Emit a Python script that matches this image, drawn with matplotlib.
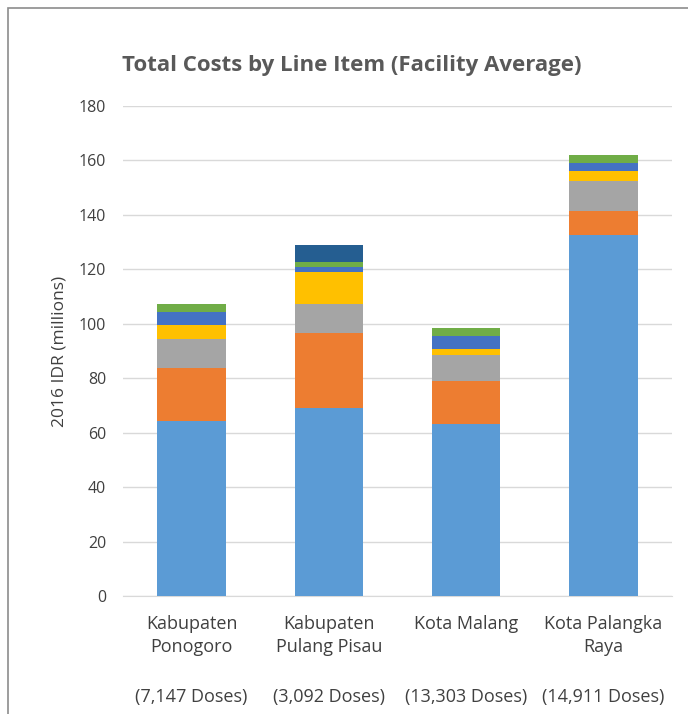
import numpy as np
import matplotlib.pyplot as plt
from matplotlib.patches import Rectangle

plt.rcParams['font.family'] = ['Open Sans', 'DejaVu Sans']

categories = ["Kabupaten\nPonogoro", "Kabupaten\nPulang Pisau", "Kota Malang\n", "Kota Palangka\nRaya"]
doses = ["(7,147 Doses)", "(3,092 Doses)", "(13,303 Doses)", "(14,911 Doses)"]

# segment values, bottom to top (millions IDR)
seg_lightblue = [64.3, 69.0, 63.2, 132.7]
seg_orange = [19.5, 27.5, 15.7, 8.8]
seg_gray = [10.7, 10.8, 9.8, 10.8]
seg_yellow = [5.1, 11.7, 1.9, 4.0]
seg_blue = [4.7, 2.0, 4.8, 2.9]
seg_green = [3.0, 1.7, 3.1, 2.9]
seg_darkblue = [0.0, 6.3, 0.0, 0.0]

series = [seg_lightblue, seg_orange, seg_gray, seg_yellow, seg_blue, seg_green, seg_darkblue]
colors = ["#5B9BD5", "#ED7D31", "#A5A5A5", "#FFC000", "#4472C4", "#70AD47", "#255E91"]

fig = plt.figure(figsize=(6.88, 7.14), dpi=100)
fig.patches.append(Rectangle((8 / 688, -0.1), 1.2, 706 / 714 + 0.1,
                             transform=fig.transFigure, fill=False,
                             edgecolor="#8C8C8C", linewidth=1.2))

ax = fig.add_axes([123 / 688, (714 - 596) / 714, (672 - 123) / 688, (596 - 106) / 714])

x = np.arange(len(categories))
bottom = np.zeros(len(categories))
for vals, col in zip(series, colors):
    vals = np.array(vals)
    ax.bar(x, vals, width=0.5, bottom=bottom, color=col, zorder=3)
    bottom += vals

ax.set_xlim(-0.5, 3.5)
ax.set_ylim(0, 180)
ax.set_yticks(np.arange(0, 181, 20))
ax.yaxis.grid(True, color="#D9D9D9", linewidth=1, zorder=0)
for s in ["top", "right", "left"]:
    ax.spines[s].set_visible(False)
ax.spines["bottom"].set_color("#D9D9D9")
ax.tick_params(axis="both", length=0, colors="#404040")
ax.tick_params(axis="y", pad=12, labelsize=11.5)
ax.set_xticks(x)
ax.set_xticklabels(categories, linespacing=1.35, fontsize=13, va="top")
ax.tick_params(axis="x", pad=14)
for xi, d in zip(x, doses):
    ax.text(xi, -0.206, d, transform=ax.get_xaxis_transform(), ha="center",
            va="center", fontsize=13, color="#404040")
ax.set_ylabel("2016 IDR (millions)", fontsize=12.5, color="#404040", labelpad=8)

fig.text(352 / 688, (714 - 65) / 714, "Total Costs by Line Item (Facility Average)",
         ha="center", va="center", fontsize=16, fontweight="bold", color="#595959")

fig.savefig("out.png", dpi=100)
